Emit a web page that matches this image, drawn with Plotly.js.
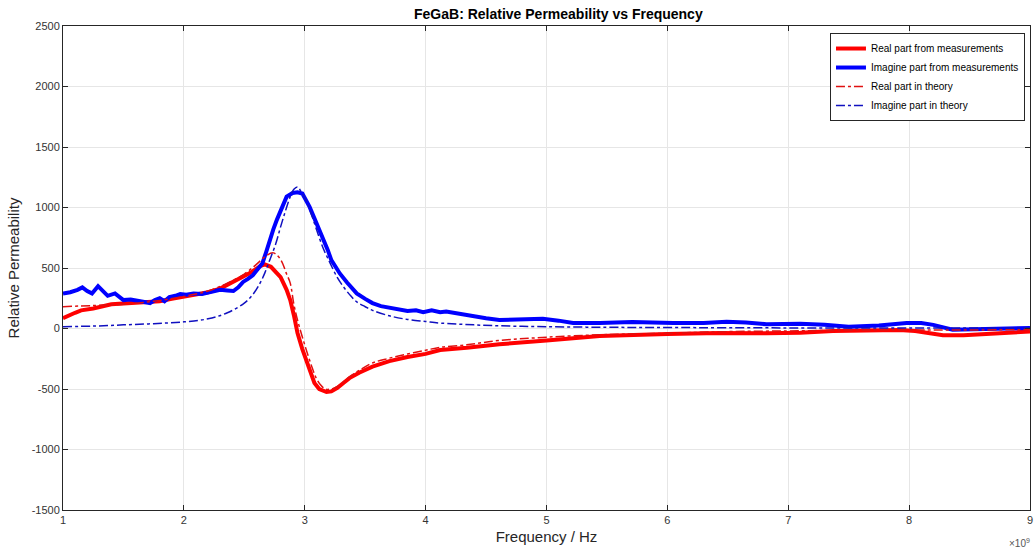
<!DOCTYPE html>
<html>
<head>
<meta charset="utf-8">
<script src="https://cdn.plot.ly/plotly-3.0.1.min.js"></script>
<style>html,body{margin:0;padding:0;background:#fff;}#chart{width:1034px;height:556px;}</style>
</head>
<body>
<div id="chart"></div>
<script>
// Frequency in units of 1e9 Hz
const freqRealMeas = [1.00,1.05,1.10,1.15,1.25,1.40,1.55,1.70,1.80,1.90,2.00,2.10,2.20,2.30,2.40,2.46,2.55,2.63,2.67,2.72,2.80,2.85,2.88,2.91,2.94,2.98,3.02,3.05,3.08,3.12,3.18,3.22,3.27,3.32,3.37,3.45,3.56,3.70,3.85,4.00,4.12,4.34,4.61,5.00,5.44,6.00,6.43,6.82,7.10,7.37,7.70,7.92,8.05,8.15,8.28,8.45,8.61,8.80,9.00];
const realMeas = [85,110,130,150,165,200,210,220,225,245,265,280,300,330,380,415,460,515,530,510,425,320,235,110,-37,-170,-285,-380,-450,-500,-525,-520,-490,-450,-410,-365,-315,-270,-235,-210,-178,-160,-130,-100,-62,-45,-37,-40,-35,-20,-15,-12,-20,-35,-55,-55,-45,-35,-25];

const freqImagMeas = [1.00,1.06,1.12,1.16,1.20,1.24,1.29,1.33,1.37,1.43,1.50,1.56,1.61,1.66,1.72,1.76,1.80,1.84,1.88,1.93,1.97,2.02,2.08,2.15,2.22,2.30,2.36,2.41,2.45,2.49,2.53,2.57,2.61,2.65,2.68,2.71,2.74,2.77,2.81,2.85,2.90,2.94,2.98,3.01,3.04,3.08,3.12,3.15,3.19,3.22,3.26,3.29,3.35,3.43,3.50,3.56,3.63,3.70,3.78,3.85,3.92,3.98,4.05,4.12,4.17,4.25,4.39,4.50,4.61,4.80,4.97,5.10,5.22,5.44,5.71,6.05,6.30,6.49,6.65,6.82,7.10,7.30,7.50,7.75,7.98,8.10,8.20,8.36,8.55,8.75,9.00];
const imagMeas = [290,300,320,340,310,290,350,310,270,290,235,240,230,225,210,235,250,225,260,270,285,280,290,285,300,320,315,310,340,385,410,440,490,540,630,730,820,900,1000,1090,1120,1125,1115,1060,1005,910,820,740,650,565,500,455,380,290,245,210,185,170,155,145,150,135,150,135,140,125,105,85,70,75,80,65,45,45,53,45,45,55,50,35,40,30,15,25,45,45,30,-10,-5,-5,5];

const freqRealTheory = [1.0,1.25,1.5,1.75,2.0,2.2,2.36,2.5,2.6,2.68,2.74,2.8,2.85,2.88,2.91,2.94,2.98,3.02,3.06,3.09,3.13,3.17,3.22,3.27,3.37,3.46,3.56,3.7,3.85,4.0,4.12,4.34,4.6,5.0,5.5,6.0,6.43,7.0,7.5,8.0,8.5,9.0];
const realTheory = [180,190,200,225,265,310,375,450,530,600,625,570,450,375,200,70,-70,-200,-320,-400,-465,-500,-500,-480,-400,-340,-285,-245,-210,-180,-155,-135,-100,-72,-50,-40,-27,-20,-15,-12,-12,-10];

const freqImagTheory = [1.0,1.25,1.5,1.75,2.0,2.2,2.36,2.5,2.57,2.63,2.67,2.71,2.76,2.8,2.84,2.88,2.91,2.94,2.97,3.0,3.02,3.06,3.1,3.15,3.21,3.27,3.32,3.38,3.43,3.5,3.56,3.7,3.85,4.0,4.12,4.4,4.7,5.0,5.5,6.0,7.0,8.0,9.0];
const imagTheory = [15,20,30,40,55,80,130,210,280,375,460,565,700,840,970,1090,1150,1170,1130,1080,1040,930,810,670,540,420,345,270,220,180,150,105,75,58,45,30,20,15,10,8,5,5,5];

const xTicks = [1,2,3,4,5,6,7,8,9];
const yTicks = [-1500,-1000,-500,0,500,1000,1500,2000,2500];

const traces = [
  {x: freqRealMeas, y: realMeas, type:'scatter', mode:'lines', name:'Real part from measurements',
   line:{color:'#ff0000', width:4}},
  {x: freqImagMeas, y: imagMeas, type:'scatter', mode:'lines', name:'Imagine part from measurements',
   line:{color:'#0000ff', width:4}},
  {x: freqRealTheory, y: realTheory, type:'scatter', mode:'lines', name:'Real part in theory',
   line:{color:'#e01010', width:1.5, dash:'dashdot', shape:'spline'}},
  {x: freqImagTheory, y: imagTheory, type:'scatter', mode:'lines', name:'Imagine part in theory',
   line:{color:'#1010c0', width:1.5, dash:'dashdot', shape:'spline'}}
];

const axisCommon = {
  showline:true, linecolor:'#262626', linewidth:1, mirror:'ticks',
  ticks:'inside', ticklen:5, tickcolor:'#262626',
  showgrid:true, gridcolor:'#e6e6e6', zeroline:false,
  tickfont:{family:'Liberation Sans, Arial, sans-serif', size:11, color:'#333'}
};

const layout = {
  width:1034, height:556,
  margin:{l:63, r:4, t:26, b:46},
  paper_bgcolor:'#fff', plot_bgcolor:'#fff',
  font:{family:'Liberation Sans, Arial, sans-serif', color:'#262626'},
  title:{text:'<b>FeGaB: Relative Permeability vs Frequency</b>', x:0.54, xanchor:'center', y:0.975, yanchor:'middle',
         font:{size:14, color:'#000'}},
  xaxis: Object.assign({}, axisCommon, {
    range:[1,9], tickvals:xTicks, ticktext:xTicks.map(String),
    title:{text:'Frequency / Hz', font:{size:15, color:'#262626'}, standoff:6}
  }),
  yaxis: Object.assign({}, axisCommon, {
    range:[-1500,2500], tickvals:yTicks, ticktext:yTicks.map(String),
    title:{text:'Relative Permeability', font:{size:15, color:'#262626'}, standoff:8}
  }),
  showlegend:true,
  legend:{x:0.9948, xanchor:'right', y:0.9855, yanchor:'top', bgcolor:'#fff', bordercolor:'#262626', borderwidth:1,
          font:{size:10, color:'#000'}, tracegroupgap:0},
  annotations:[{text:'×10<sup>9</sup>', xref:'paper', yref:'paper', x:1.002, y:-0.068, xanchor:'right', yanchor:'middle',
                showarrow:false, font:{size:10, color:'#555'}}]
};

Plotly.newPlot('chart', traces, layout, {displayModeBar:false, staticPlot:true});
</script>
</body>
</html>
